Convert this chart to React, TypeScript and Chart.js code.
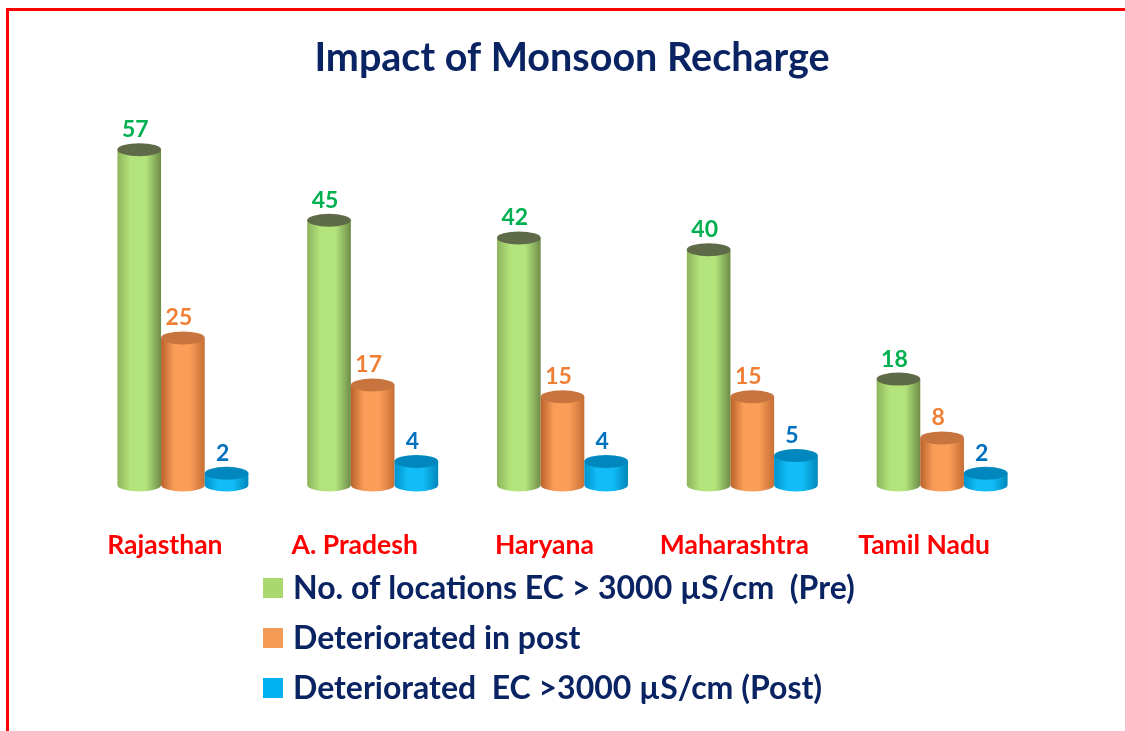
import React, { useEffect, useRef } from "react";
import { Chart, registerables } from "chart.js";

Chart.register(...registerables);

const categories = ["Rajasthan", "A. Pradesh", "Haryana", "Maharashtra", "Tamil Nadu"];
const preValues = [57, 45, 42, 40, 18];
const deterioratedPost = [25, 17, 15, 15, 8];
const deterioratedEcPost = [2, 4, 4, 5, 2];
const seriesNames = [
  "No. of locations EC > 3000 µS/cm  (Pre)",
  "Deteriorated in post",
  "Deteriorated  EC >3000 µS/cm (Post)",
];
const chartTitle = "Impact of Monsoon Recharge";

const FONT = "Lato, 'Open Sans', sans-serif";

const palette = [
  { edgeL: "#8DB35B", mid: "#B3E47C", edgeR: "#6E8C48", top: "#5F6B48", label: "#00B050", legend: "#A9D86E" },
  { edgeL: "#B8622B", mid: "#FA9D58", edgeR: "#C66F35", top: "#C8743E", label: "#F07F35", legend: "#F39A55" },
  { edgeL: "#0092CC", mid: "#12BDF7", edgeR: "#0086BB", top: "#0088BE", label: "#0070C0", legend: "#00B0F0" },
];

const cylinderPlugin = {
  id: "cylinders",
  beforeDraw(chart: any) {
    const ctx = chart.ctx;
    ctx.save();
    ctx.fillStyle = "#FFFFFF";
    ctx.fillRect(0, 0, chart.width, chart.height);
    ctx.fillStyle = "#FF0000";
    ctx.fillRect(6, 8, chart.width, 3);
    ctx.fillRect(6, 8, 3, chart.height);
    // title
    ctx.fillStyle = "#0A2463";
    ctx.font = `bold 39.5px ${FONT}`;
    ctx.textAlign = "center";
    ctx.textBaseline = "middle";
    ctx.fillText(chartTitle, 572, 58);
    ctx.restore();
  },
  afterDatasetsDraw(chart: any) {
    const ctx = chart.ctx;
    ctx.save();
    chart.data.datasets.forEach((ds: any, di: number) => {
      const meta = chart.getDatasetMeta(di);
      const c = palette[di];
      meta.data.forEach((el: any, i: number) => {
        const { x, y, base, width } = el.getProps(["x", "y", "base", "width"], true);
        const rx = width / 2;
        const ry = 6.5;
        const g = ctx.createLinearGradient(x - rx, 0, x + rx, 0);
        g.addColorStop(0, c.edgeL);
        g.addColorStop(0.3, c.mid);
        g.addColorStop(0.65, c.mid);
        g.addColorStop(1, c.edgeR);
        ctx.fillStyle = g;
        ctx.beginPath();
        ctx.moveTo(x - rx, y);
        ctx.lineTo(x - rx, base);
        ctx.ellipse(x, base, rx, ry, 0, Math.PI, 0, true);
        ctx.lineTo(x + rx, y);
        ctx.closePath();
        ctx.fill();
        ctx.fillStyle = c.top;
        ctx.beginPath();
        ctx.ellipse(x, y, rx, ry, 0, 0, Math.PI * 2);
        ctx.fill();
        // value label
        ctx.fillStyle = c.label;
        ctx.font = `bold 23px ${FONT}`;
        ctx.textAlign = "center";
        ctx.textBaseline = "middle";
        ctx.fillText(String(ds.data[i]), x - 4, y - 20);
      });
    });
    // category labels
    const xs = chart.scales.x;
    ctx.fillStyle = "#FF0000";
    ctx.font = `bold 26.5px ${FONT}`;
    ctx.textAlign = "center";
    ctx.textBaseline = "middle";
    categories.forEach((cat, i) => {
      ctx.fillText(cat, xs.getPixelForValue(i) - 18, 545);
    });
    // legend
    ctx.textAlign = "left";
    ctx.font = `bold 32px ${FONT}`;
    seriesNames.forEach((name, i) => {
      const cy = 588 + i * 50;
      ctx.fillStyle = palette[i].legend;
      ctx.fillRect(263, cy - 10, 20, 20);
      ctx.fillStyle = "#0A2463";
      ctx.fillText(name, 293, cy + 1);
    });
    ctx.restore();
  },
};

export default function App() {
  const ref = useRef<HTMLCanvasElement>(null);
  useEffect(() => {
    if (!ref.current) return;
    const chart = new Chart(ref.current, {
      type: "bar",
      data: {
        labels: categories,
        datasets: [
          { label: seriesNames[0], data: preValues, backgroundColor: "rgba(0,0,0,0)" },
          { label: seriesNames[1], data: deterioratedPost, backgroundColor: "rgba(0,0,0,0)" },
          { label: seriesNames[2], data: deterioratedEcPost, backgroundColor: "rgba(0,0,0,0)" },
        ],
      },
      options: {
        responsive: false,
        animation: false,
        layout: { padding: { left: 88, right: 88, top: 132, bottom: 246 } },
        datasets: { bar: { barPercentage: 1, categoryPercentage: 0.69 } },
        scales: {
          x: { display: false },
          y: { display: false, min: 0, max: 60 },
        },
        plugins: {
          legend: { display: false },
          title: { display: false },
          tooltip: { enabled: false },
        },
      },
      plugins: [cylinderPlugin],
    });
    return () => chart.destroy();
  }, []);
  return (
    <div style={{ position: "absolute", left: 0, top: 0, width: 1125, height: 731 }}>
      <canvas ref={ref} width={1125} height={731} />
    </div>
  );
}
